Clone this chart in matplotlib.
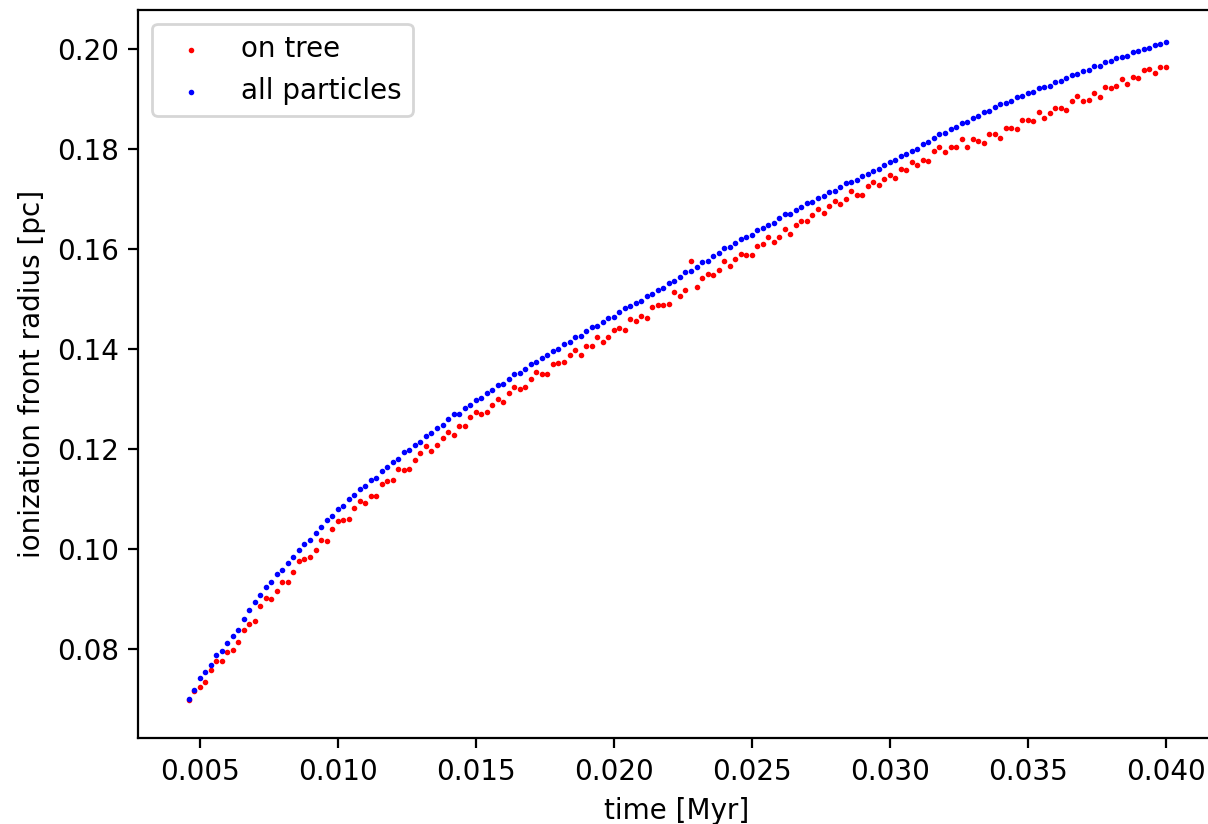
import matplotlib
matplotlib.use('Agg')
import matplotlib.pyplot as plt
import numpy as np

# Snapshot times (Myr) and ionization front radius (pc).
TIME_MYR = [
    0.0046, 0.0048, 0.0050, 0.0052, 0.0054, 0.0056, 0.0058, 0.0060, 0.0062, 0.0064,
    0.0066, 0.0068, 0.0070, 0.0072, 0.0074, 0.0076, 0.0078, 0.0080, 0.0082, 0.0084,
    0.0086, 0.0088, 0.0090, 0.0092, 0.0094, 0.0096, 0.0098, 0.0100, 0.0102, 0.0104,
    0.0106, 0.0108, 0.0110, 0.0112, 0.0114, 0.0116, 0.0118, 0.0120, 0.0122, 0.0124,
    0.0126, 0.0128, 0.0130, 0.0132, 0.0134, 0.0136, 0.0138, 0.0140, 0.0142, 0.0144,
    0.0146, 0.0148, 0.0150, 0.0152, 0.0154, 0.0156, 0.0158, 0.0160, 0.0162, 0.0164,
    0.0166, 0.0168, 0.0170, 0.0172, 0.0174, 0.0176, 0.0178, 0.0180, 0.0182, 0.0184,
    0.0186, 0.0188, 0.0190, 0.0192, 0.0194, 0.0196, 0.0198, 0.0200, 0.0202, 0.0204,
    0.0206, 0.0208, 0.0210, 0.0212, 0.0214, 0.0216, 0.0218, 0.0220, 0.0222, 0.0224,
    0.0226, 0.0228, 0.0230, 0.0232, 0.0234, 0.0236, 0.0238, 0.0240, 0.0242, 0.0244,
    0.0246, 0.0248, 0.0250, 0.0252, 0.0254, 0.0256, 0.0258, 0.0260, 0.0262, 0.0264,
    0.0266, 0.0268, 0.0270, 0.0272, 0.0274, 0.0276, 0.0278, 0.0280, 0.0282, 0.0284,
    0.0286, 0.0288, 0.0290, 0.0292, 0.0294, 0.0296, 0.0298, 0.0300, 0.0302, 0.0304,
    0.0306, 0.0308, 0.0310, 0.0312, 0.0314, 0.0316, 0.0318, 0.0320, 0.0322, 0.0324,
    0.0326, 0.0328, 0.0330, 0.0332, 0.0334, 0.0336, 0.0338, 0.0340, 0.0342, 0.0344,
    0.0346, 0.0348, 0.0350, 0.0352, 0.0354, 0.0356, 0.0358, 0.0360, 0.0362, 0.0364,
    0.0366, 0.0368, 0.0370, 0.0372, 0.0374, 0.0376, 0.0378, 0.0380, 0.0382, 0.0384,
    0.0386, 0.0388, 0.0390, 0.0392, 0.0394, 0.0396, 0.0398, 0.0400,
]

# front radius using only particles on the tree (noisier, sits below)
R_ON_TREE = [
    0.0698, 0.0717, 0.0725, 0.0735, 0.0758, 0.0776, 0.0777, 0.0795, 0.0798, 0.0814,
    0.0839, 0.0850, 0.0856, 0.0886, 0.0902, 0.0901, 0.0916, 0.0934, 0.0934, 0.0954,
    0.0976, 0.0981, 0.0984, 0.0999, 0.1019, 0.1016, 0.1040, 0.1057, 0.1058, 0.1061,
    0.1082, 0.1096, 0.1093, 0.1107, 0.1107, 0.1131, 0.1137, 0.1138, 0.1160, 0.1159,
    0.1160, 0.1178, 0.1192, 0.1206, 0.1197, 0.1209, 0.1222, 0.1235, 0.1228, 0.1247,
    0.1246, 0.1264, 0.1275, 0.1270, 0.1274, 0.1289, 0.1301, 0.1294, 0.1313, 0.1325,
    0.1320, 0.1325, 0.1340, 0.1355, 0.1350, 0.1350, 0.1371, 0.1372, 0.1374, 0.1389,
    0.1399, 0.1388, 0.1406, 0.1407, 0.1424, 0.1415, 0.1424, 0.1439, 0.1442, 0.1439,
    0.1461, 0.1456, 0.1466, 0.1462, 0.1484, 0.1488, 0.1489, 0.1491, 0.1514, 0.1507,
    0.1518, 0.1577, 0.1524, 0.1542, 0.1551, 0.1548, 0.1559, 0.1576, 0.1566, 0.1581,
    0.1591, 0.1588, 0.1589, 0.1607, 0.1610, 0.1624, 0.1615, 0.1625, 0.1640, 0.1630,
    0.1648, 0.1656, 0.1656, 0.1668, 0.1681, 0.1672, 0.1686, 0.1696, 0.1690, 0.1700,
    0.1716, 0.1709, 0.1709, 0.1727, 0.1735, 0.1728, 0.1740, 0.1748, 0.1742, 0.1761,
    0.1759, 0.1775, 0.1768, 0.1778, 0.1777, 0.1796, 0.1804, 0.1794, 0.1805, 0.1804,
    0.1821, 0.1805, 0.1820, 0.1816, 0.1813, 0.1830, 0.1831, 0.1823, 0.1843, 0.1842,
    0.1841, 0.1859, 0.1858, 0.1856, 0.1874, 0.1862, 0.1872, 0.1883, 0.1883, 0.1878,
    0.1897, 0.1906, 0.1897, 0.1899, 0.1913, 0.1905, 0.1925, 0.1923, 0.1926, 0.1941,
    0.1931, 0.1945, 0.1943, 0.1959, 0.1960, 0.1952, 0.1965, 0.1965,
]

# front radius using all particles
R_ALL = [
    0.0701, 0.0718, 0.0742, 0.0755, 0.0769, 0.0788, 0.0796, 0.0813, 0.0827, 0.0839,
    0.0861, 0.0878, 0.0894, 0.0909, 0.0925, 0.0934, 0.0951, 0.0959, 0.0972, 0.0985,
    0.0999, 0.1010, 0.1018, 0.1033, 0.1044, 0.1058, 0.1067, 0.1081, 0.1087, 0.1100,
    0.1108, 0.1120, 0.1126, 0.1138, 0.1143, 0.1156, 0.1164, 0.1175, 0.1181, 0.1194,
    0.1199, 0.1209, 0.1215, 0.1227, 0.1233, 0.1243, 0.1249, 0.1261, 0.1270, 0.1271,
    0.1282, 0.1288, 0.1298, 0.1302, 0.1312, 0.1318, 0.1328, 0.1331, 0.1341, 0.1350,
    0.1353, 0.1361, 0.1370, 0.1374, 0.1383, 0.1388, 0.1397, 0.1400, 0.1410, 0.1415,
    0.1424, 0.1427, 0.1436, 0.1444, 0.1447, 0.1454, 0.1463, 0.1465, 0.1474, 0.1482,
    0.1486, 0.1493, 0.1497, 0.1506, 0.1511, 0.1518, 0.1522, 0.1532, 0.1537, 0.1545,
    0.1554, 0.1557, 0.1565, 0.1574, 0.1577, 0.1587, 0.1593, 0.1602, 0.1605, 0.1613,
    0.1621, 0.1624, 0.1629, 0.1638, 0.1642, 0.1649, 0.1652, 0.1662, 0.1670, 0.1671,
    0.1679, 0.1684, 0.1692, 0.1695, 0.1702, 0.1707, 0.1714, 0.1716, 0.1724, 0.1732,
    0.1734, 0.1739, 0.1747, 0.1751, 0.1757, 0.1760, 0.1769, 0.1774, 0.1778, 0.1787,
    0.1790, 0.1797, 0.1800, 0.1810, 0.1814, 0.1822, 0.1830, 0.1832, 0.1840, 0.1845,
    0.1852, 0.1855, 0.1863, 0.1867, 0.1874, 0.1876, 0.1884, 0.1891, 0.1893, 0.1896,
    0.1904, 0.1906, 0.1912, 0.1914, 0.1922, 0.1925, 0.1927, 0.1935, 0.1937, 0.1943,
    0.1949, 0.1950, 0.1956, 0.1959, 0.1966, 0.1966, 0.1974, 0.1977, 0.1983, 0.1985,
    0.1987, 0.1994, 0.1996, 0.2000, 0.2002, 0.2008, 0.2010, 0.2014,
]


def main():
    fig = plt.figure(figsize=(6.04, 4.12), dpi=200)
    # axes box placed to match the reference (right spine falls just off the canvas)
    ax = fig.add_axes([138.3 / 1208, 85.7 / 824, 1076.4 / 1208, 728.3 / 824])

    t = np.array(TIME_MYR)
    ax.scatter(t, R_ON_TREE, s=1, c='red', label='on tree')
    ax.scatter(t, R_ALL, s=1, c='blue', label='all particles')

    ax.set_xlim(0.00278, 0.04177)
    ax.set_ylim(0.0622, 0.20786)
    ax.set_xticks([0.005, 0.010, 0.015, 0.020, 0.025, 0.030, 0.035, 0.040])
    ax.set_xlabel('time [Myr]')
    ax.set_ylabel('ionization front radius [pc]')
    ax.legend(loc='upper left')

    fig.savefig('out.png', dpi=200)
    plt.close(fig)


if __name__ == '__main__':
    main()
